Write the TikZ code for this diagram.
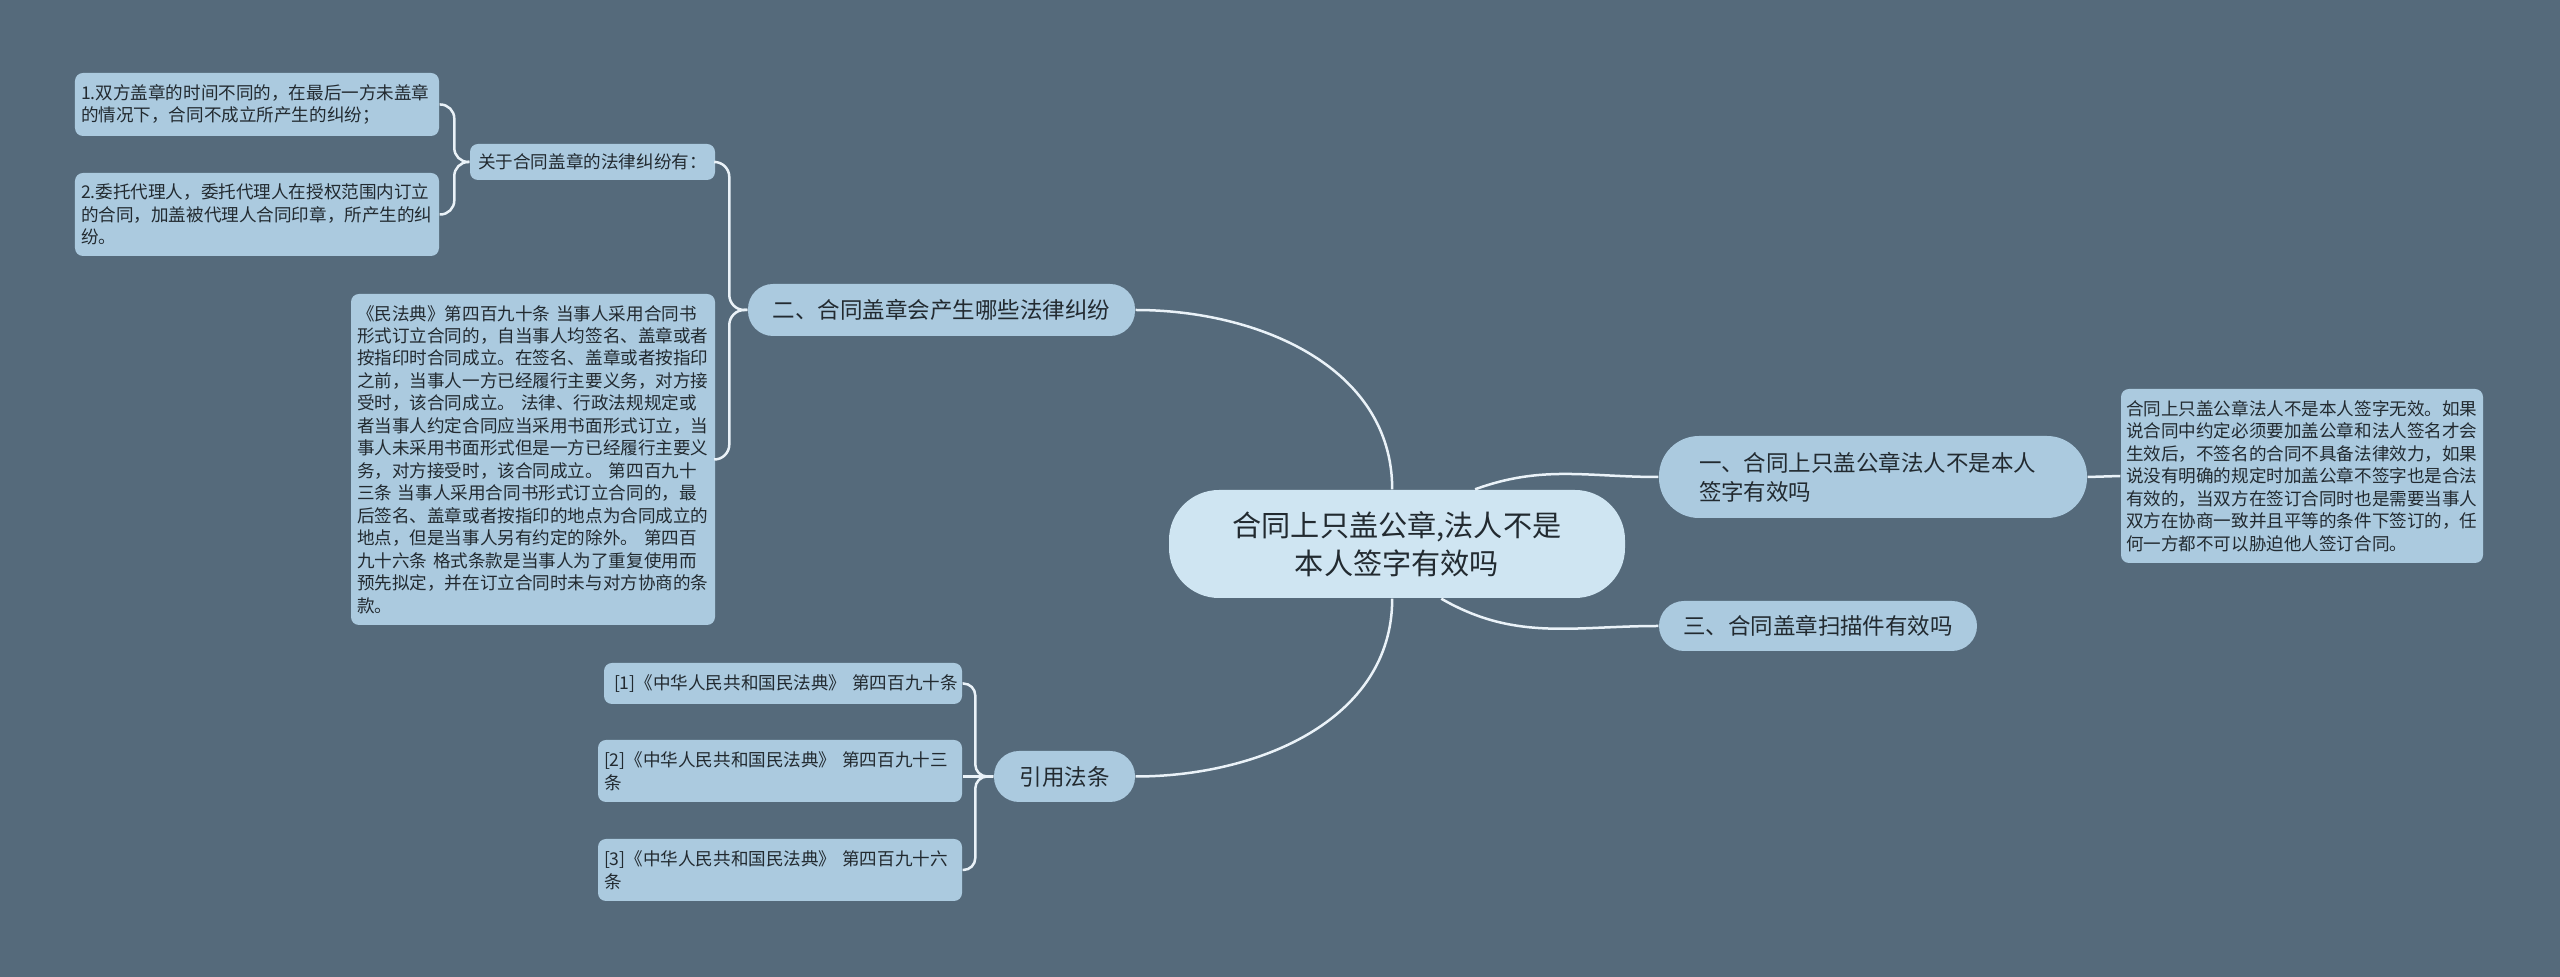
\documentclass[tikz,border=0pt]{standalone}
\usepackage{fontspec}
\setmainfont{Noto Sans CJK SC}
\definecolor{bgcol}{HTML}{556A7B}
\definecolor{rootcol}{HTML}{CFE5F2}
\definecolor{nodecol}{HTML}{ABCADF}
\definecolor{linecol}{HTML}{EAF2F8}
\definecolor{txtcol}{HTML}{222A30}

\begin{document}
\begin{tikzpicture}[x=1mm, y=1mm,
	link/.style={draw=linecol, line width=0.25mm},
	rootnode/.style={fill=rootcol, rounded corners=5mm, text=txtcol, align=center, inner sep=0pt, font=\fontsize{8.3}{10.7}\selectfont},
	topic/.style={fill=nodecol, rounded corners=2.5mm, text=txtcol, inner sep=0pt, font=\fontsize{6.4}{8.3}\selectfont},
	leaf/.style={fill=nodecol, rounded corners=0.8mm, text=txtcol, align=left, inner xsep=0.6mm, inner ysep=0pt, text width=35.2mm, font=\fontsize{5}{6.4}\selectfont}]

			% фон
			\fill[bgcol] (0,0) rectangle (256,-97.7);
			\useasboundingbox (0,0) rectangle (256,-97.7);

			% центр и ветви
			\node[rootnode, minimum width=45.6mm, minimum height=10.8mm] (root) at (139.7,-54.4) {合同上只盖公章,法人不是\\本人签字有效吗};
			\node[topic, rounded corners=4mm, align=left, text width=34.8mm, inner xsep=4mm, minimum height=8.2mm] (one) at (187.3,-47.7) {一、合同上只盖公章法人不是本人\\签字有效吗};
			\node[topic, minimum width=31.8mm, minimum height=5mm] (three) at (181.8,-62.6) {三、合同盖章扫描件有效吗};
			\node[topic, minimum width=38.7mm, minimum height=5.2mm] (two) at (94.15,-31) {二、合同盖章会产生哪些法律纠纷};
			\node[topic, minimum width=14.1mm, minimum height=5.1mm] (cite) at (106.45,-77.65) {引用法条};

			% листья
			\node[leaf, inner xsep=0.5mm, minimum height=17.4mm] (oneleaf) at (230.2,-47.6) {合同上只盖公章法人不是本人签字无效。如果\\说合同中约定必须要加盖公章和法人签名才会\\生效后，不签名的合同不具备法律效力，如果\\说没有明确的规定时加盖公章不签字也是合法\\有效的，当双方在签订合同时也是需要当事人\\双方在协商一致并且平等的条件下签订的，任\\何一方都不可以胁迫他人签订合同。};
			\node[leaf, align=center, text width=23.3mm, minimum height=3.6mm] (guan) at (59.25,-16.2) {关于合同盖章的法律纠纷有：};
			\node[leaf, minimum height=6.3mm] (leafa) at (25.7,-10.45) {1.双方盖章的时间不同的，在最后一方未盖章\\的情况下，合同不成立所产生的纠纷；};
			\node[leaf, minimum height=8.3mm] (leafb) at (25.7,-21.45) {2.委托代理人，委托代理人在授权范围内订立\\的合同，加盖被代理人合同印章，所产生的纠\\纷。};
			\node[leaf, minimum height=33.1mm] (law) at (53.3,-45.95) {《民法典》第四百九十条 当事人采用合同书\\形式订立合同的，自当事人均签名、盖章或者\\按指印时合同成立。在签名、盖章或者按指印\\之前，当事人一方已经履行主要义务，对方接\\受时，该合同成立。 法律、行政法规规定或\\者当事人约定合同应当采用书面形式订立，当\\事人未采用书面形式但是一方已经履行主要义\\务，对方接受时，该合同成立。 第四百九十\\三条 当事人采用合同书形式订立合同的，最\\后签名、盖章或者按指印的地点为合同成立的\\地点，但是当事人另有约定的除外。 第四百\\九十六条 格式条款是当事人为了重复使用而\\预先拟定，并在订立合同时未与对方协商的条\\款。};
			\node[leaf, text width=35mm, inner xsep=0.4mm, minimum height=4.1mm] (refa) at (78.3,-68.35) {\hspace{0.6mm}[1]《中华人民共和国民法典》~第四百九十条};
			\node[leaf, minimum height=6.2mm] (refb) at (78,-77.1) {[2]《中华人民共和国民法典》 第四百九十三\\条};
			\node[leaf, minimum height=6.2mm] (refc) at (78,-87) {[3]《中华人民共和国民法典》 第四百九十六\\条};

			% связи от центра
			\draw[link] (root.95) to[out=90, in=0] (two.east);
			\draw[link] (root.-95) to[out=-90, in=0] (cite.east);
			\draw[link] (root.35) to[out=20, in=180] (one.west);
			\draw[link] (root.-51) to[out=-30, in=180] (three.west);
			\draw[link] (one.east) -- (oneleaf.west);

			% скобки
			\foreach \c in {guan, law}
					\draw[link, rounded corners=1.5mm] (two.west) -- ++(-1.8,0) |- (\c.east);
			\foreach \c in {leafa, leafb}
					\draw[link, rounded corners=1.4mm] (guan.west) -- ++(-1.5,0) |- (\c.east);
			\foreach \c in {refa, refc}
					\draw[link, rounded corners=1.2mm] (cite.west) -- ++(-1.8,0) |- (\c.east);
			\draw[link] (cite.west) -- (refb.east |- cite.west);
		\end{tikzpicture}
\end{document}
